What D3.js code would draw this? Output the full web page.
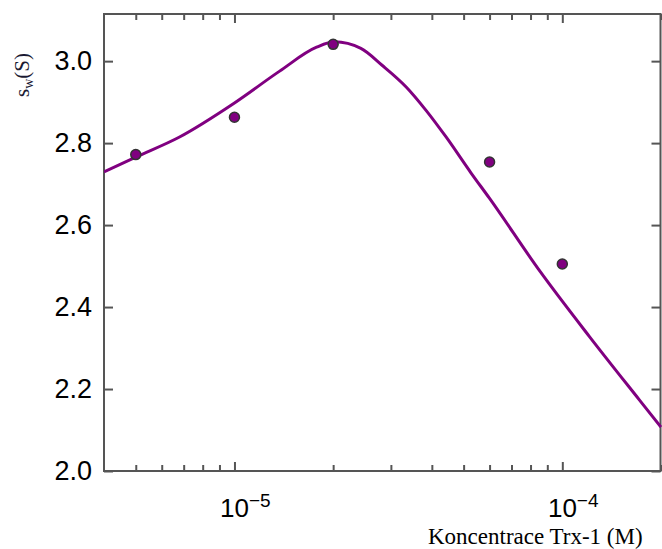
<!DOCTYPE html>
<html>
<head>
<meta charset="utf-8">
<script src="https://cdn.jsdelivr.net/npm/d3@7"></script>
<style>
  body { margin: 0; background: #fff; }
</style>
</head>
<body>
<div id="chart"></div>
<script>
var width = 662, height = 549;
var margin = { left: 104, right: 1, top: 14, bottom: 78 };

// measured points
var pointConc = [5e-6, 1e-5, 2e-5, 6e-5, 1e-4];
var pointSw = [2.772, 2.863, 3.041, 2.754, 2.505];

// fitted curve
var fitConc = [4.0e-6, 5.0e-6, 6.8e-6, 1.0e-5, 1.37e-5, 1.78e-5, 2.02e-5, 2.43e-5, 2.82e-5,
               3.34e-5, 3.84e-5, 4.42e-5, 5.27e-5, 6.0e-5, 8.5e-5, 1.21e-4, 1.72e-4, 2.0e-4];
var fitSw = [2.730, 2.766, 2.815, 2.898, 2.975, 3.034, 3.047, 3.031, 2.990,
             2.937, 2.880, 2.815, 2.727, 2.665, 2.490, 2.328, 2.173, 2.107];

// ticks
var majorX = [1e-5, 1e-4];
var majorXExp = ["\u22125", "\u22124"];
var minorX = [5e-6, 6e-6, 7e-6, 8e-6, 9e-6, 2e-5, 3e-5, 4e-5, 5e-5, 6e-5, 7e-5, 8e-5, 9e-5, 2e-4];
var yTicks = [2.0, 2.2, 2.4, 2.6, 2.8, 3.0];

var x = d3.scaleLog().domain([4e-6, 2e-4]).range([margin.left, width - margin.right]);
var y = d3.scaleLinear().domain([2.0, 3.115]).range([height - margin.bottom, margin.top]);

var svg = d3.select("#chart").append("svg")
    .attr("width", width)
    .attr("height", height);

var axisColor = "#555";

// bottom axis, major ticks + labels
var gx = svg.append("g")
    .attr("transform", "translate(0," + y(2.0) + ")")
    .call(d3.axisBottom(x).tickValues(majorX).tickSize(-9).tickPadding(28).tickFormat(""));
gx.selectAll("text").each(function(d, i) {
  var t = d3.select(this)
      .attr("font-family", "'Liberation Sans', Arial, sans-serif")
      .attr("font-size", "26px")
      .attr("fill", "#000")
      .attr("dx", "0.4em");
  t.append("tspan").text("10");
  t.append("tspan").attr("font-size", "19px").attr("dy", "-10").text(majorXExp[i]);
});
svg.append("g")
    .attr("transform", "translate(0," + y(2.0) + ")")
    .call(d3.axisBottom(x).tickValues(minorX).tickSize(-6).tickFormat(""));

// top axis
svg.append("g")
    .attr("transform", "translate(0," + margin.top + ")")
    .call(d3.axisTop(x).tickValues(majorX).tickSize(-9).tickFormat(""));
svg.append("g")
    .attr("transform", "translate(0," + margin.top + ")")
    .call(d3.axisTop(x).tickValues(minorX).tickSize(-6).tickFormat(""));

// left axis
svg.append("g")
    .attr("transform", "translate(" + margin.left + ",0)")
    .call(d3.axisLeft(y).tickValues(yTicks).tickSize(-9).tickPadding(12).tickFormat(d3.format(".1f")))
    .selectAll("text")
    .attr("font-family", "'Liberation Sans', Arial, sans-serif")
    .attr("font-size", "27px")
    .attr("fill", "#000");

// right axis
svg.append("g")
    .attr("transform", "translate(" + (width - margin.right - 0.5) + ",0)")
    .call(d3.axisRight(y).tickValues(yTicks).tickSize(-9).tickFormat(""));

svg.selectAll(".domain").remove();
svg.selectAll(".tick line").attr("stroke", axisColor).attr("stroke-width", 2);

// frame
svg.append("rect")
    .attr("x", margin.left)
    .attr("y", margin.top)
    .attr("width", width - margin.right - margin.left - 0.5)
    .attr("height", y(2.0) - margin.top)
    .attr("fill", "none")
    .attr("stroke", axisColor)
    .attr("stroke-width", 2);

svg.append("clipPath").attr("id", "plot")
  .append("rect")
    .attr("x", margin.left)
    .attr("y", margin.top)
    .attr("width", width - margin.left)
    .attr("height", y(2.0) - margin.top);

// fitted line
var line = d3.line()
    .curve(d3.curveMonotoneX)
    .x(function(d, i) { return x(fitConc[i]); })
    .y(function(d) { return y(d); });

svg.append("path")
    .datum(fitSw)
    .attr("clip-path", "url(#plot)")
    .attr("d", line)
    .attr("fill", "none")
    .attr("stroke", "#800080")
    .attr("stroke-width", 3)
    .attr("stroke-linejoin", "round");

// points
svg.append("g")
  .selectAll("circle")
  .data(pointSw)
  .enter()
  .append("circle")
    .attr("cx", function(d, i) { return x(pointConc[i]); })
    .attr("cy", function(d) { return y(d); })
    .attr("r", 5)
    .attr("fill", "#800080")
    .attr("stroke", "#333")
    .attr("stroke-width", 1.5);

// axis titles
svg.append("text")
    .attr("x", 428)
    .attr("y", 544)
    .attr("text-anchor", "start")
    .attr("font-family", "'Liberation Serif', 'Times New Roman', serif")
    .attr("font-size", "23px")
    .attr("fill", "#000")
    .text("Koncentrace Trx-1 (M)");

var yl = svg.append("text")
    .attr("transform", "translate(29,75) rotate(-90)")
    .attr("text-anchor", "middle")
    .attr("font-family", "'Liberation Serif', 'Times New Roman', serif")
    .attr("font-size", "21px")
    .attr("fill", "#1a1a33");
yl.append("tspan").text("s");
yl.append("tspan").attr("font-size", "14px").attr("dy", "4").text("w");
yl.append("tspan").attr("dy", "-4").text("(S)");
</script>
</body>
</html>
